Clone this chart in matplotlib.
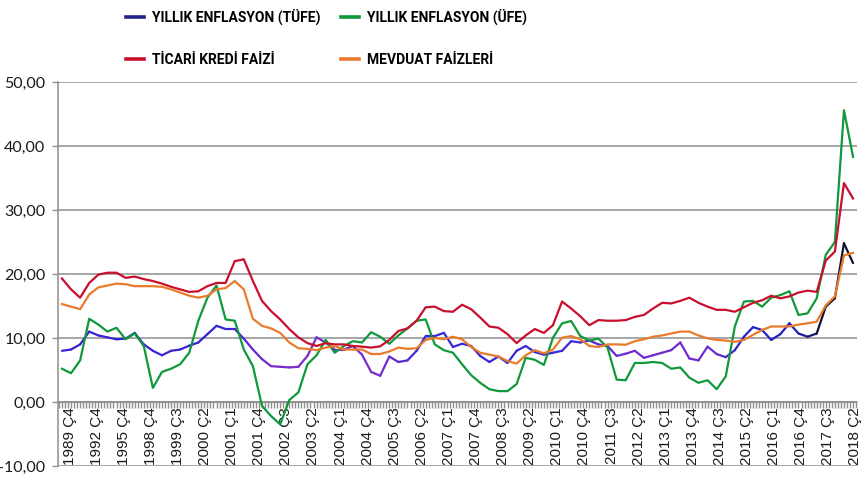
import numpy as np
import matplotlib
matplotlib.use("Agg")
import matplotlib.pyplot as plt
from matplotlib.collections import LineCollection
from matplotlib.colors import LinearSegmentedColormap
from matplotlib.lines import Line2D
from matplotlib.ticker import MultipleLocator, FixedLocator, FuncFormatter

# %% Data — one value every 3 categories (262 categories, labels every 9)
STEP = 3
tick_labels = ["1989 Ç4", "1992 Ç4", "1995 Ç4", "1998 Ç4", "1999 Ç3", "2000 Ç2",
               "2001 Ç1", "2001 Ç4", "2002 Ç3", "2003 Ç2", "2004 Ç1", "2004 Ç4",
               "2005 Ç3", "2006 Ç2", "2007 Ç1", "2007 Ç4", "2008 Ç3", "2009 Ç2",
               "2010 Ç1", "2010 Ç4", "2011 Ç3", "2012 Ç2", "2013 Ç1", "2013 Ç4",
               "2014 Ç3", "2015 Ç2", "2016 Ç1", "2016 Ç4", "2017 Ç3", "2018 Ç2"]

tufe = [8.0, 8.2, 9.0, 11.0, 10.4, 10.1, 9.8, 9.9, 10.8, 9.0,
        8.0, 7.3, 8.0, 8.2, 8.8, 9.3, 10.6, 11.9, 11.4, 11.4,
        9.9, 8.2, 6.7, 5.6, 5.5, 5.4, 5.5, 7.2, 10.1, 9.3,
        8.2, 8.2, 8.75, 7.4, 4.7, 4.1, 7.1, 6.25, 6.5, 8.0,
        10.3, 10.3, 10.8, 8.6, 9.1, 8.75, 7.2, 6.25, 7.1, 6.1,
        8.0, 8.75, 7.8, 7.4, 7.7, 8.0, 9.5, 9.3, 9.6, 9.0,
        8.75, 7.2, 7.55, 8.0, 6.9, 7.3, 7.7, 8.1, 9.3, 6.8,
        6.5, 8.65, 7.5, 7.0, 8.1, 10.2, 11.7, 11.25, 9.7, 10.6,
        12.3, 10.7, 10.2, 10.7, 14.9, 16.2, 24.8, 21.7]

ufe = [5.2, 4.5, 6.5, 13.0, 12.1, 11.0, 11.6, 9.8, 10.7, 8.75,
       2.2, 4.7, 5.2, 5.9, 7.7, 12.7, 16.3, 18.2, 12.9, 12.7,
       8.2, 5.6, -0.6, -2.2, -3.5, 0.3, 1.5, 5.9, 7.3, 9.7,
       7.7, 8.75, 9.5, 9.3, 10.9, 10.2, 9.1, 10.4, 11.5, 12.7,
       12.9, 9.0, 8.1, 7.7, 5.9, 4.2, 3.0, 2.0, 1.7, 1.7,
       2.8, 6.9, 6.6, 5.8, 10.05, 12.3, 12.65, 10.3, 9.6, 9.9,
       8.5, 3.5, 3.4, 6.1, 6.1, 6.25, 6.1, 5.2, 5.4, 3.8,
       3.0, 3.4, 2.0, 4.0, 11.8, 15.7, 15.8, 14.9, 16.3, 16.7,
       17.3, 13.6, 13.85, 16.2, 23.0, 25.0, 45.6, 38.3]

ticari = [19.3, 17.6, 16.3, 18.6, 19.9, 20.2, 20.2, 19.4, 19.6, 19.2,
          18.9, 18.5, 18.0, 17.6, 17.2, 17.3, 18.1, 18.6, 18.6, 22.0,
          22.3, 18.9, 15.8, 14.2, 12.9, 11.4, 10.1, 9.2, 8.75, 9.2,
          9.0, 9.0, 8.75, 8.65, 8.5, 8.7, 9.7, 11.1, 11.5, 12.7,
          14.8, 14.9, 14.2, 14.1, 15.2, 14.5, 13.2, 11.8, 11.6, 10.6,
          9.2, 10.4, 11.4, 10.8, 12.0, 15.7, 14.6, 13.4, 12.0, 12.8,
          12.7, 12.7, 12.8, 13.3, 13.6, 14.6, 15.5, 15.4, 15.8, 16.3,
          15.5, 14.9, 14.4, 14.4, 14.1, 14.8, 15.5, 15.9, 16.6, 16.2,
          16.5, 17.1, 17.4, 17.2, 22.1, 23.5, 34.2, 31.8]

mevduat = [15.3, 14.9, 14.5, 16.8, 17.9, 18.2, 18.5, 18.4, 18.1, 18.1,
           18.1, 18.0, 17.6, 17.1, 16.6, 16.3, 16.6, 17.6, 17.8, 18.9,
           17.6, 13.0, 11.9, 11.5, 10.8, 9.3, 8.4, 8.3, 8.1, 8.5,
           8.75, 8.2, 8.2, 8.2, 7.5, 7.5, 7.9, 8.5, 8.3, 8.4,
           9.7, 10.0, 9.8, 10.2, 9.8, 8.6, 7.7, 7.4, 7.1, 6.4,
           6.0, 7.3, 8.1, 7.6, 8.2, 10.05, 10.3, 9.8, 8.75, 8.6,
           9.0, 9.0, 8.95, 9.5, 9.8, 10.2, 10.4, 10.7, 11.0, 11.0,
           10.4, 9.95, 9.7, 9.6, 9.4, 9.7, 10.5, 11.25, 11.8, 11.8,
           11.8, 12.1, 12.3, 12.55, 15.1, 16.5, 22.9, 23.3]

labels = ["YILLIK ENFLASYON (TÜFE)", "YILLIK ENFLASYON (ÜFE)",
          "TİCARİ KREDİ FAİZİ", "MEVDUAT FAİZLERİ"]

# %% Style
C_GREEN, C_RED, C_ORANGE = "#10993b", "#c8102e", "#ea7b2c"
GRID = "#8e8e8e"
LW = 1.6
x = np.arange(len(tufe)) * STEP
n_cat = x[-1] + 1

fig = plt.figure(figsize=(8.67, 4.8), dpi=100)
ax = fig.add_axes([58 / 867, 1 - 466 / 480, 799 / 867, 384 / 480])
ax.set_xlim(-1.3, n_cat + 0.3)
ax.set_ylim(-10, 50)

# TÜFE line changes colour along its length (blue / purple / black)
tufe_cmap = LinearSegmentedColormap.from_list("tufe", [
    (0.00, "#3a22d6"), (0.20, "#3325d4"), (0.26, "#7a2ccc"), (0.40, "#7a2ccc"),
    (0.46, "#3a28d8"), (0.63, "#3a28d8"), (0.72, "#6e2cd0"), (0.83, "#6e2cd0"),
    (0.87, "#2323c8"), (0.94, "#1e22b8"), (0.97, "#101030"), (1.00, "#101030")])
pts = np.column_stack([x, tufe]).reshape(-1, 1, 2)
segs = np.concatenate([pts[:-1], pts[1:]], axis=1)
lc = LineCollection(segs, colors=tufe_cmap(np.linspace(0, 1, len(segs))),
                    linewidths=LW, capstyle="round", joinstyle="round", zorder=3)
ax.add_collection(lc)

ax.plot(x, ufe, color=C_GREEN, lw=LW, zorder=3, solid_joinstyle="round")
ax.plot(x, ticari, color=C_RED, lw=LW, zorder=3, solid_joinstyle="round")
ax.plot(x, mevduat, color=C_ORANGE, lw=LW, zorder=3, solid_joinstyle="round")

# axes
ax.yaxis.set_major_locator(MultipleLocator(10))
ax.yaxis.set_major_formatter(FuncFormatter(lambda v, _: f"{v:.2f}".replace(".", ",")))
ax.grid(axis="y", color=GRID, lw=1.1)
ax.set_axisbelow(True)
for s in ("top", "right"):
    ax.spines[s].set_visible(False)
ax.spines["bottom"].set_position(("data", 0))
ax.spines["bottom"].set_color(GRID)
ax.spines["left"].set_color(GRID)
ax.spines["bottom"].set_linewidth(1.1)
ax.spines["left"].set_linewidth(1.1)

lab_pos = np.linspace(2.5, n_cat - 0.2, len(tick_labels))
ax.xaxis.set_major_locator(FixedLocator(lab_pos))
ax.set_xticklabels(tick_labels, rotation=90, fontsize=11,
                   family=["Liberation Sans", "DejaVu Sans"], color="#1a1a1a")
ax.xaxis.set_minor_locator(MultipleLocator(1))
ax.tick_params(axis="x", which="major", length=0, pad=4)
ax.tick_params(axis="x", which="minor", length=4, color=GRID, width=1)
ax.tick_params(axis="y", length=4, color=GRID, width=1, pad=5, labelsize=11.5,
               labelcolor="#1a1a1a")
for t in ax.get_yticklabels():
    t.set_family(["Lato", "DejaVu Sans"])

# legend
handles = [Line2D([], [], color="#23238f", lw=2.6),
           Line2D([], [], color=C_GREEN, lw=2.6),
           Line2D([], [], color=C_RED, lw=2.6),
           Line2D([], [], color=C_ORANGE, lw=2.6)]
order = [0, 2, 1, 3]
fig.legend([handles[i] for i in order], [labels[i] for i in order],
           loc="upper left", bbox_to_anchor=(119 / 867, 1 - 2 / 480), ncol=2,
           frameon=False, handlelength=1.3, handletextpad=0.55,
           columnspacing=1.5, labelspacing=2.0, borderpad=0,
           prop={"family": ["Roboto", "DejaVu Sans"],
                 "weight": "bold", "size": 10})

fig.savefig("out.png", dpi=100)
